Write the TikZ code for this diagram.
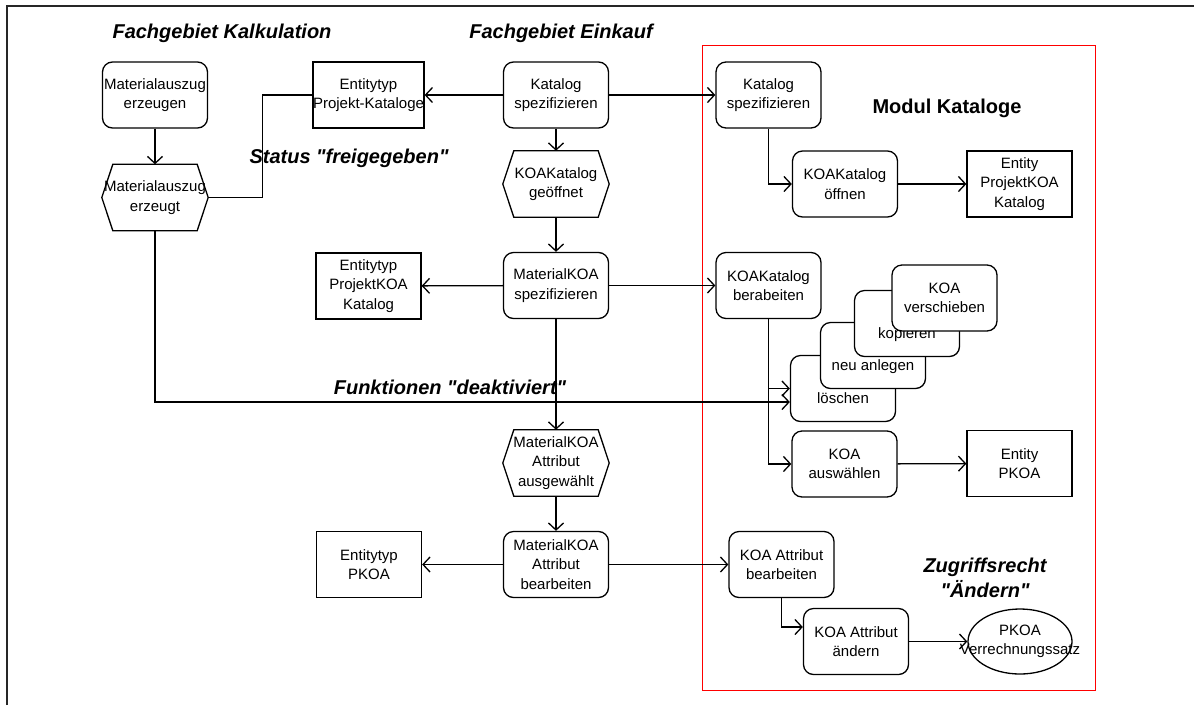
\documentclass[tikz,border=0pt]{standalone}
\usepackage{fontspec}
\setmainfont{Liberation Sans}[Ligatures=TeXOff]
\usetikzlibrary{arrows.meta,shapes.geometric}

\tikzset{
  base/.style={inner sep=0pt, align=center, font=\fontsize{15}{19.5}\selectfont},
  proc/.style={base, draw, rounded corners=10pt, minimum width=105pt, minimum height=66pt, line width=1.3pt},
  ent/.style={base, draw, minimum width=105pt, minimum height=66pt, line width=1.3pt},
  evt/.style={base, minimum width=106pt, minimum height=66pt},
  plain/.style={base},
  title/.style={inner sep=0pt, align=center, font=\fontsize{20}{25}\selectfont\bfseries\itshape},
  conn/.style={line width=1.3pt},
  arr/.style={conn, -{Straight Barb[length=7pt,width=15pt]}},
}

% hexagonal event outline around a named node
\newcommand{\hexoutline}[1]{%
  \draw[line width=1.3pt] (#1.west) -- ([xshift=11pt]#1.north west) -- ([xshift=-11pt]#1.north east)
    -- (#1.east) -- ([xshift=-11pt]#1.south east) -- ([xshift=11pt]#1.south west) -- cycle;}

\begin{document}
\begin{tikzpicture}[x=1pt,y=-1pt]
\useasboundingbox (0,0) rectangle (1194,705);

% outer frame
\draw[line width=1.6pt, black!85] (7,705) -- (7,6) -- (1194,6);
% module frame
\draw[red, line width=0.9pt] (702,45) rectangle (1095,690);

% headings
\node[title] (tKalk) at (222,33) {Fachgebiet Kalkulation};
\node[title] (tEink) at (561,33) {Fachgebiet Einkauf};
\node[title] (tStat) at (349,158) {Status "freigegeben"};
\node[title] (tFunk) at (450,387) {Funktionen "deaktiviert"};
\node[inner sep=0pt, font=\fontsize{20}{25}\selectfont\bfseries] (tMod) at (947,108) {Modul Kataloge};
\node[title] (tZug) at (985,578) {Zugriffsrecht\\"Ändern"};

% Fachgebiet Kalkulation
\node[proc] (mae) at (155,95) {Materialauszug\\erzeugen};
\node[evt] (mag) at (155,197.5) {Materialauszug\\erzeugt};
\hexoutline{mag}

% Fachgebiet Einkauf
\node[ent] (ep) at (368.5,95) {Entitytyp\\Projekt-Kataloge};
\node[proc] (ks) at (556,95) {Katalog\\spezifizieren};
\node[evt] (kg) at (556,184) {KOAKatalog\\geöffnet};
\hexoutline{kg}
\node[ent] (ep2) at (368.5,286) {Entitytyp\\ProjektKOA\\Katalog};
\node[proc] (ms) at (556,285.5) {MaterialKOA\\spezifizieren};
\node[evt] (ma) at (556,463) {MaterialKOA\\Attribut\\ausgewählt};
\hexoutline{ma}
\node[proc] (mb) at (556,564.5) {MaterialKOA\\Attribut\\bearbeiten};
\node[ent] (ep3) at (369,564.5) {Entitytyp\\PKOA};

% Modul Kataloge
\node[proc] (ks2) at (768.5,95) {Katalog\\spezifizieren};
\node[proc] (ko) at (845,184) {KOAKatalog\\öffnen};
\node[ent] (epk) at (1019.5,184) {Entity\\ProjektKOA\\Katalog};
\node[proc] (kb) at (768.5,285.5) {KOAKatalog\\berabeiten};

% stacked functions, back to front
\node[proc, fill=white] (lo) at (843,388.5) {};
\node[plain] (lot) at (843,398) {löschen};
\node[proc, fill=white] (na) at (873,355.5) {};
\node[plain] (nat) at (873,367) {neu anlegen};
\node[proc, fill=white] (kp) at (907,323.5) {};
\node[plain] (kpt) at (907,335) {kopieren};
\node[proc, fill=white] (kv) at (944.5,298) {KOA\\verschieben};

\node[proc] (kw) at (844.5,464) {KOA\\auswählen};
\node[ent] (epk2) at (1019.5,463.5) {Entity\\PKOA};
\node[proc] (kab) at (781.5,564.5) {KOA Attribut\\bearbeiten};
\node[proc] (kae) at (856,641.5) {KOA Attribut\\ändern};
\node[ellipse, draw, line width=1.3pt, minimum width=104pt, minimum height=65pt, inner sep=0pt] (pv) at (1020,641.5) {};
\node[plain] (pvt) at (1020,641.5) {PKOA\\Verrechnungssatz};

% connectors
\draw[arr] (mae) -- (mag);
\draw[conn] (mag.east) -- ++(54,0) |- (ep.west);
\draw[arr] (ks) -- (ep);
\draw[arr] (ks) -- (ks2);
\draw[arr] (ks) -- (kg);
\draw[arr] (ks2.south) |- (ko.west);
\draw[arr] (ko) -- (epk);
\draw[arr] (kg) -- (ms);
\draw[arr] (ms) -- (ep2);
\draw[arr] (ms) -- (kb);
\draw[arr] (ms) -- (ma);
\draw[arr] (kb.south) |- (kw.west);
\draw[arr] (kb.south |- lo.west) -- (lo.west);
\draw[arr] (mag.south) |- ([yshift=-13.5pt]lo.west);
\draw[arr] (kw) -- (epk2);
\draw[arr] (ma) -- (mb);
\draw[arr] (mb) -- (ep3);
\draw[arr] (mb) -- (kab);
\draw[arr] (kab.south) |- ([yshift=14.5pt]kae.west);
\draw[arr] (kae) -- (pv);
\end{tikzpicture}
\end{document}
